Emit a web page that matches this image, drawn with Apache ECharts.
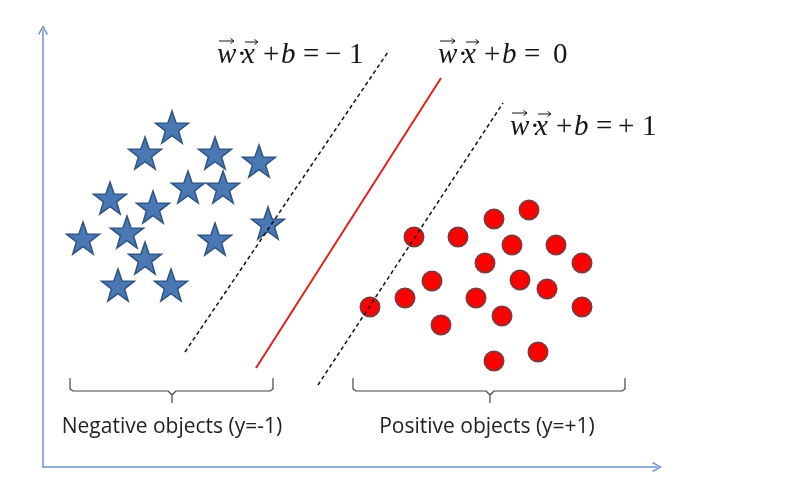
<!DOCTYPE html>
<html>
<head>
<meta charset="utf-8">
<script src="https://cdn.jsdelivr.net/npm/echarts@6/dist/echarts.min.js"></script>
<style>html,body{margin:0;padding:0;background:#fff;}#c{width:786px;height:480px;}</style>
</head>
<body>
<div id="c"></div>
<script>
// Negative class (stars): x, y
const starX = [129, 102, 172, 216, 67, 145, 180, 110, 84, 40, 172, 225, 102, 75, 128];
const starY = [340, 314, 314, 306, 269, 280, 280, 260, 235, 229, 228, 244, 209, 182, 182];
// Positive class (circles)
const circX = [486, 451, 371, 415, 469, 513, 442, 539, 389, 477, 504, 362, 433, 327, 539, 459, 398, 495, 451];
const circY = [257, 248, 230, 230, 222, 222, 204, 204, 186, 187, 178, 169, 169, 160, 160, 151, 142, 115, 106];
// Lines: w.x+b = -1, 0, +1  (two endpoints each)
const negMargin = [[142, 115], [345, 415]];
const hyperplane = [[213, 99], [398, 389]];
const posMargin = [[275, 82], [460, 364]];
// Braces
const leftBrace = [[27, 89], [27, 78], [30, 76], [125, 76], [129, 72], [129, 64], [129, 72], [133, 76], [227, 76], [230, 78], [230, 89]];
const rightBrace = [[310, 89], [310, 78], [313, 76], [443, 76], [447, 72], [447, 64], [447, 72], [451, 76], [579, 76], [582, 78], [582, 89]];
// Labels
const negLabel = 'Negative objects (y=-1)';
const posLabel = 'Positive objects (y=+1)';
const rhsNeg = ['\u2212', '1'];
const rhsZero = ['0'];
const rhsPos = ['+', '1'];

const zip = (a, b) => a.map((v, i) => [v, b[i]]);
const STAR = 'path://M50,0 L61.8,33.8 L97.6,34.5 L69,56.2 L79.4,90.5 L50,70 L20.6,90.5 L31,56.2 L2.4,34.5 L38.2,33.8 Z';
const ARROW = 'path://M5,0 L10,9 L8.8,10 L5,2.8 L1.2,10 L0,9 Z';
const axisColor = '#6f92c6';
const ink = '#151515';

const chart = echarts.init(document.getElementById('c'));
const axisCommon = {
  type: 'value', min: 0,
  axisLine: {show: true, onZero: false, symbol: ['none', ARROW], symbolSize: [10, 10], lineStyle: {color: axisColor, width: 1.5}},
  axisTick: {show: false}, axisLabel: {show: false}, splitLine: {show: false}
};
const serifRich = {
  i: {fontFamily: 'Liberation Serif', fontStyle: 'italic', fontSize: 29, color: ink},
  n: {fontFamily: 'Liberation Serif', fontSize: 29, color: ink}
};
function glyph(t, dx, italic) {
  return {
    type: 'text', x: dx, y: 0,
    style: {text: '{' + (italic ? 'i' : 'n') + '|' + t + '}', rich: serifRich, fill: ink, textVerticalAlign: 'bottom'}
  };
}
function vecArrow(x1, x2, y) {
  return [
    {type: 'line', shape: {x1: x1, y1: y, x2: x2, y2: y}, style: {stroke: ink, lineWidth: 1}},
    {type: 'polyline', shape: {points: [[x2 - 3.5, y - 2.5], [x2, y], [x2 - 3.5, y + 2.5]]}, style: {stroke: ink, fill: null, lineWidth: 1}}
  ];
}
// build a formula "w.x + b = rhs" ; x0,y0 = left, baseline
function formula(rhs, x0, y0) {
  const kids = [
    glyph('w', 0, true), glyph('\u00B7', 20, false), glyph('x', 25, true),
    glyph('+', 46, false), glyph('b', 64, true), glyph('=', 86, false)
  ];
  if (rhs.length === 1) kids.push(glyph(rhs[0], 115, false));
  else { kids.push(glyph(rhs[0], 108, false)); kids.push(glyph(rhs[1], 132, false)); }
  return {
    type: 'group', x: x0, y: y0 + 9,
    children: kids.concat(vecArrow(2, 17, -29), vecArrow(28, 41, -28))
  };
}
const lineSeries = (data, color, type, width) => ({
  type: 'line', data: data, symbol: 'none', silent: true, animation: false,
  lineStyle: {color: color, type: type, width: width}
});
chart.setOption({
  animation: false,
  grid: {left: 43, right: 129, top: 30, bottom: 13},
  xAxis: Object.assign({}, axisCommon, {max: 614}),
  yAxis: Object.assign({}, axisCommon, {max: 437}),
  series: [
    lineSeries(negMargin, '#111', [4, 3], 1.5),
    lineSeries(hyperplane, '#e41e1e', 'solid', 2),
    lineSeries(posMargin, '#111', [4, 3], 1.5),
    lineSeries(leftBrace, '#444', 'solid', 1.2),
    lineSeries(rightBrace, '#444', 'solid', 1.2),
    {
      type: 'scatter', data: zip(starX, starY), symbol: STAR, symbolSize: [33, 32],
      itemStyle: {color: '#4a78b4', borderColor: '#2f5482', borderWidth: 1.5, opacity: 1}
    },
    {
      type: 'scatter', data: zip(circX, circY), symbol: 'circle', symbolSize: 19,
      itemStyle: {color: '#ff0000', borderColor: '#8a3434', borderWidth: 2, opacity: 1}
    }
  ],
  graphic: [
    formula(rhsNeg, 217, 61),
    formula(rhsZero, 438, 61),
    formula(rhsPos, 510, 133),
    {type: 'text', x: 172, y: 427, style: {text: negLabel, fontFamily: 'Open Sans', fontSize: 21, fill: '#222', textAlign: 'center', textVerticalAlign: 'middle'}},
    {type: 'text', x: 487, y: 427, style: {text: posLabel, fontFamily: 'Open Sans', fontSize: 21, fill: '#222', textAlign: 'center', textVerticalAlign: 'middle'}}
  ]
});
</script>
</body>
</html>
